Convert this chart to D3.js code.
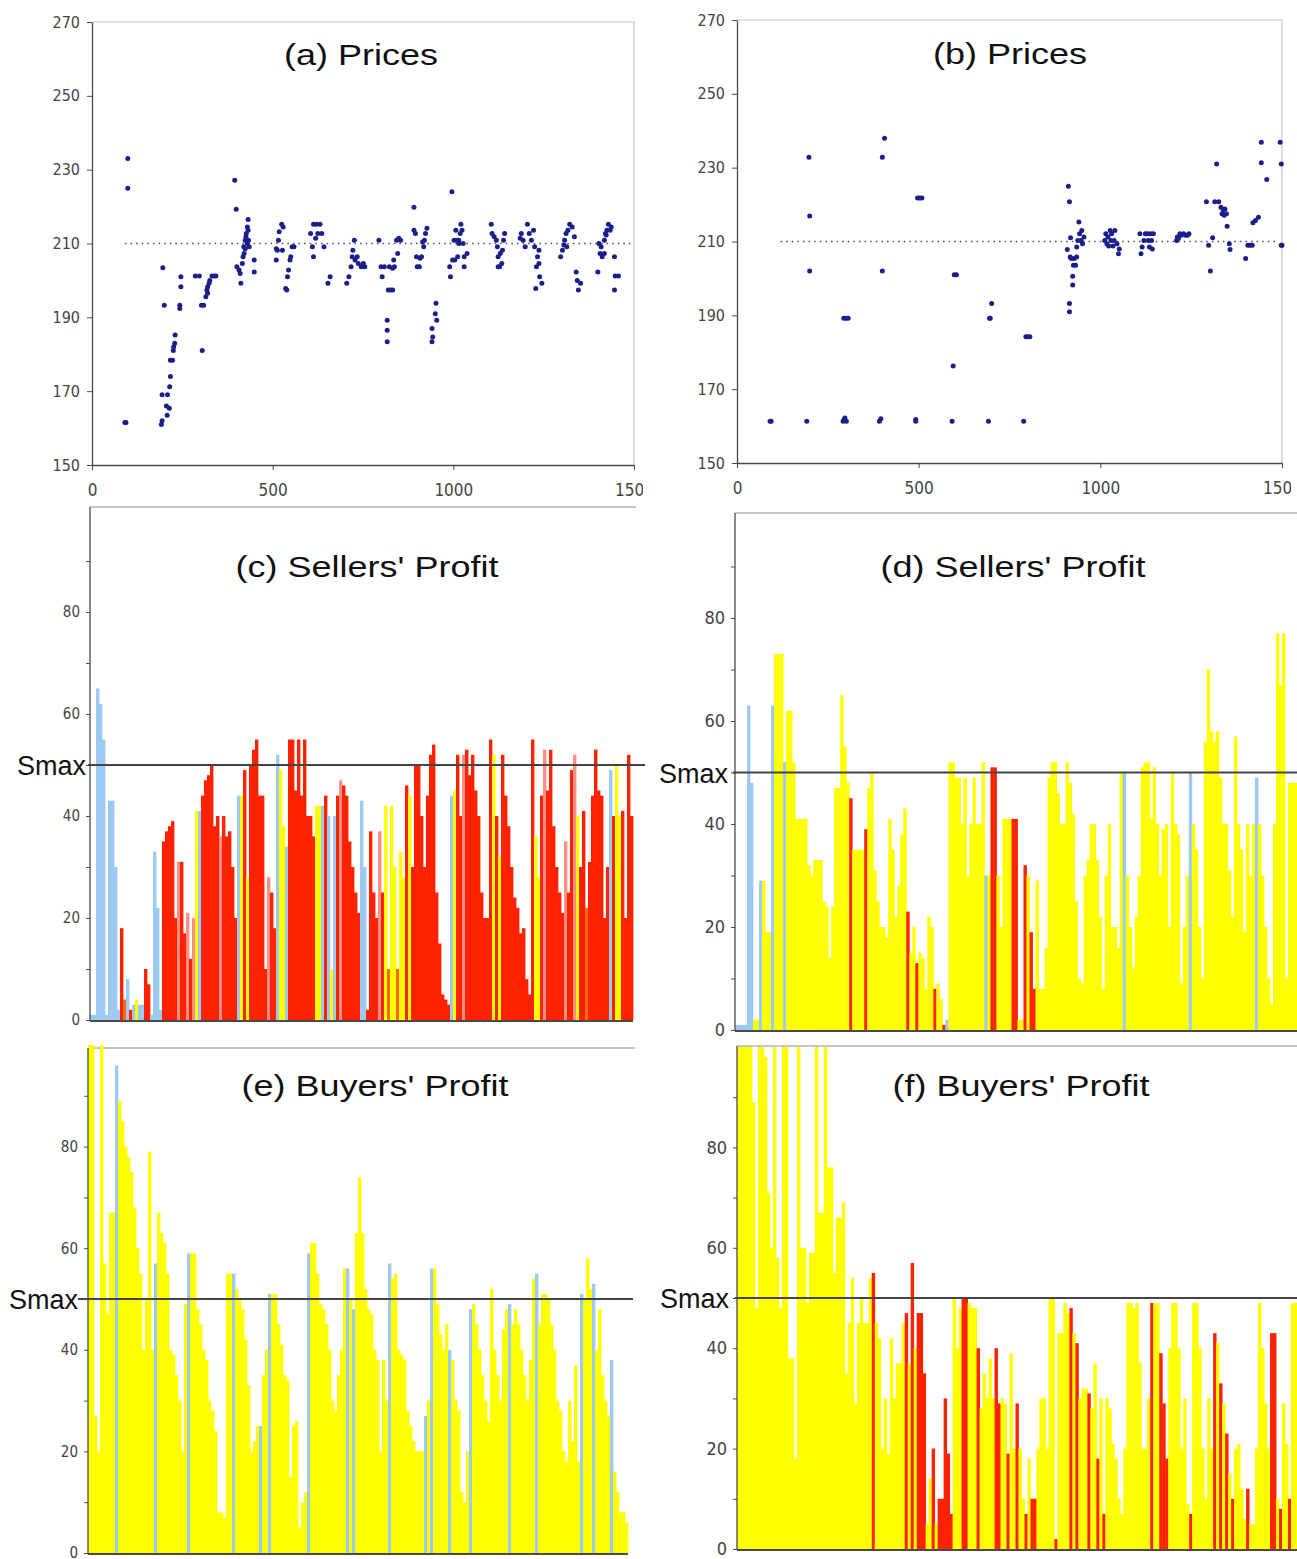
<!DOCTYPE html>
<html>
<head>
<meta charset="utf-8">
<script src="https://cdn.jsdelivr.net/npm/d3@7"></script>
<style>
  body { margin: 0; background: #fff; }
  svg { display: block; }
</style>
</head>
<body>
<svg id="chart" width="1297" height="1559"></svg>
<script>
const colours = {
  b: '#9dcaf3',
  y: '#ffff00',
  r: '#ff2200',
  p: '#ff8f86',
  o: '#ff6a10',
  dot: '#1b1f8a',
  axis: '#4a4a4a',
  frame: '#c6c6c6',
  label: '#444',
  title: '#111',
};
const narrowFont = "'Liberation Sans Narrow', 'DejaVu Sans Condensed', sans-serif";
const titleFont = "'Liberation Sans', Arial, sans-serif";

// ---- data ----
const timeTicks = [0, 500, 1000, 1500];
const priceTicks = [150, 170, 190, 210, 230, 250, 270];
const profitTicks = [0, 10, 20, 30, 40, 50, 60, 70, 80, 90];
const profitLabels = [0, 20, 40, 60, 80];
const EQUILIBRIUM = 210;
const SMAX = 50;

// (a) prices: [time, price]
const pricesA = [
  [91,161.5],[94,161.5],[99,233],[99,225],[192,161],[194,162],[196,203.4],[200,193.3],[194,169],[209,169],
  [206,166],[208,163.5],[214,165.4],[215,171.2],[217,174],[217,178.4],[223,178.4],[226,182],[229,183],[230,185.2],
  [225,181],[246,198.3],[246,201],[243,193.3],[243,192.4],[286,201.2],[297,201.2],[305,181],[303,193.3],[309,193.3],
  [315,195.6],[318,197.4],[320,198.3],[324,199.2],[326,200],[332,201.2],[338,201.2],[343,201.2],[320,196.5],
  [395,227.1],[399,219.3],[401,203.7],[407,202.8],[412,199.2],[410,201.9],[418,206.4],[420,209.1],[424,210.9],[427,212.7],
  [430,214.5],[432,216.5],[416,204.6],[421,207.3],[424,208.6],[430,210],[433,210.9],[435,209.1],[426,211.8],[432,213.6],
  [449,205.5],[449,202.3],
  [510,205.5],[513,208.2],[516,210.9],[518,213.2],[525,215.2],[529,214.5],[527,208.2],[510,208.6],[536,197.8],[539,197.4],
  [541,201],[544,202.8],[548,205.5],[550,206.4],[554,209.1],[559,209.1],
  [605,212.7],[610,209.1],[613,206.4],[613,215.2],[621,215.2],[625,212.7],[631,215.2],[636,212.7],[642,209.1],[619,211.4],
  [653,199.2],[659,201],
  [705,199.2],[711,201],[717,203.7],[720,206.4],[722,208.2],[726,210.9],[728,205.5],[734,206.4],[737,204.6],[745,203.7],
  [751,204.6],[755,203.7],
  [794,210.9],[800,203.7],[803,201],[809,203.7],[817,189.2],[817,186.5],[817,183.4],[820,197.4],[826,197.4],[832,197.4],
  [823,203.7],[832,203.3],[835,205.5],[837,203.7],[843,210.9],[849,211.4],[854,210.9],[846,207.3],
  [891,219.8],[891,213.6],[895,212.7],[898,206.4],[900,203.7],[906,203.7],[912,206.4],[918,209.1],[920,210.9],[923,212.7],
  [927,214.1],[915,210.4],[908,206],
  [941,187],[941,183.4],[943,184.7],[950,191],[952,193.8],[954,189.2],
  [996,224],[990,203.7],[992,201],[998,205.5],[1002,210.9],[1007,213.6],[1010,210.9],[1004,205.5],[1012,206.4],[1015,210.9],
  [1019,212.7],[1021,215.2],[1024,213.6],[1027,210],[1030,206.4],[1030,203.7],[1038,207.3],[1015,210],
  [1105,215.2],[1107,212.7],[1113,211.8],[1119,210.9],[1122,209.1],[1124,206.4],[1128,203.7],[1130,207.3],[1134,204.6],[1136,208.2],
  [1139,210.9],[1142,212.7],[1124,203.7],
  [1185,211.4],[1188,212.7],[1193,210.9],[1199,209.1],[1205,215.2],[1210,212.7],[1216,210.9],[1222,213.6],[1225,209.1],[1228,197.8],
  [1230,203.7],[1233,206.4],[1237,208.2],[1239,201],[1245,199.2],[1237,204.6],
  [1297,206.4],[1302,208.2],[1306,209.6],[1308,210.9],[1312,212.7],[1317,213.6],[1322,215.2],[1329,214.5],[1335,211.8],[1340,202.3],
  [1343,200],[1346,197.4],[1352,199.2],[1314,209.1],
  [1400,202.3],[1403,210],[1406,207.3],[1412,206.4],[1418,210.9],[1421,212.7],[1425,213.6],[1429,215.2],[1434,213.6],[1437,214.5],
  [1409,209.1],[1423,212.3],[1418,207.3],[1446,206.4],[1448,201.2],[1457,201.2],[1446,197.4],
];

// (b) prices: [time, price]
const pricesB = [
  [91,161.3],[94,161.3],[192,161.3],[198,232.8],[200,216.9],[200,202],
  [294,189.2],[300,189.2],[306,189.2],[292,161.3],[295,161.8],[297,162.2],[301,161.3],
  [392,161.3],[396,162],[400,232.8],[406,238],[400,202],
  [492,161.8],[492,161.3],[497,221.8],[503,221.8],[509,221.8],
  [592,161.3],[595,176.3],[598,201],[604,201],
  [692,161.3],[697,189.2],[701,193.2],[695,189.2],
  [789,161.3],[795,184.2],[800,184.2],[806,184.2],
  [909,207.8],[912,225],[915,220.8],[915,191],[915,193.2],[917,205.8],[920,205.4],[918,211],[924,198.2],[924,200.6],
  [926,203.6],[928,205.4],[932,203.6],[935,205.8],[938,210.3],[935,208.5],[941,215.3],[943,212.1],[947,210.3],[949,213],
  [951,209.4],[955,211.2],
  [1012,210.3],[1015,212.1],[1018,209.4],[1021,211.2],[1023,208.8],[1027,213],[1029,210.3],[1031,212.1],[1035,208.8],[1038,210.3],
  [1040,213],[1046,209.4],[1050,206.7],[1052,208],
  [1109,212.1],[1112,206.7],[1115,208.5],[1120,210.3],[1124,212.1],[1130,212.1],[1132,210.3],[1135,208.5],[1138,212.1],[1141,210.3],
  [1143,208],[1146,212.1],
  [1210,210.3],[1212,211.2],[1215,210.8],[1219,212.1],[1223,211.7],[1229,212.1],[1235,211.7],[1240,211.7],[1244,212.1],
  [1292,220.8],[1298,209],[1303,202],[1309,211],[1315,220.8],[1320,231],[1326,220.8],[1332,219.3],[1335,217.5],[1338,218.6],
  [1341,217.1],[1343,218.8],[1347,217.5],[1349,214.1],[1355,209.4],[1357,207.8],
  [1400,205.4],[1406,209],[1412,209],[1418,209],[1420,215.1],[1427,215.7],[1435,216.6],[1443,236.9],[1443,231.3],[1458,226.8],
  [1495,236.9],[1498,231],[1498,209],[1500,209],
];

// (c) sellers' profit per transaction slot; kinds: b blue, y yellow, r red, p light red, o orange
const sellersC = [
  1,1,65,62,55,1,43,43,30,2, 18,4,8,2,3,4,3,3,10,7, 1,33,22,2,35,37,38,39,20,31,
  31,17,21,12,20,41,41,44,47,48, 50,38,40,36,40,36,37,30,20,44, 44,49,28,50,53,55,44,44,10,28,
  25,18,52,49,38,34,55,55,45,55, 44,55,40,40,36,42,42,42,44,40, 10,40,44,47,46,44,35,30,25,21,
  43,30,2,37,25,20,37,25,42,10, 42,30,10,33,28,46,44,30,50,50, 40,30,44,52,54,25,15,5,4,3,
  44,45,52,40,52,53,48,52,45,40, 25,20,20,55,52,40,32,52,44,38, 30,24,22,17,18,8,5,55,36,28,
  44,53,45,53,38,30,25,21,35,25, 49,52,40,30,41,22,31,44,53,45, 44,20,30,49,40,50,40,41,20,52,40,
];
const sellersCKinds = (
  'bbbbbbbbbb' + 'robrbybbrr' + 'bbbbrrrrrp' + 'rrprpybrrr' + 'rrrprrrrrb' + 'yryrrrrrrp' +
  'rrbyybrrrr' + 'rrrrryybrb' + 'ybrprrrrrr' + 'bbrrrrpryo' + 'yyoyyryrrr' + 'rrrrrrrrrr' +
  'byrrprrrrr' + 'rrrryryrrr' + 'rrrrrrrryy' + 'rprrrrrrpr' + 'rpyrrorrrr' + 'rrrbryyrrrr'
).split('');

// (d) sellers' profit
const sellersD = [
  1,1,1,1,63,48,2,2,29,29, 19,19,63,73,73,73,52,62,62,52, 41,41,41,41,32,30,33,33,33,25,
  24,14,24,47,47,65,55,48,45,35, 35,35,35,39,47,50,31,25,20,20, 18,41,35,22,28,38,43,23,15,20,
  13,15,14,8,22,20,8,9,6,1, 2,52,52,49,49,40,49,30,40,49, 40,40,52,30,30,51,51,30,20,41,
  41,41,41,41,2,2,32,30,19,8, 29,8,8,16,49,52,52,46,40,40, 52,48,42,25,10,9,30,33,40,40,
  33,22,8,30,40,20,20,16,50,50, 30,20,12,22,30,51,52,52,41,51, 40,30,39,40,20,50,40,38,9,20,
  30,50,40,35,20,10,56,70,58,56, 58,49,40,40,31,22,57,40,35,19, 40,30,40,49,40,30,20,10,5,40,
  77,67,77,10,48,48,48,
];
const sellersDKinds = (
  'bbbbbbyyby' + 'yybyyybyyy' + 'yyyyyyyyyy' + 'yyyyyyyyry' + 'yyyryyyyyy' + 'yyyyyyyryy' +
  'ryyyyyryyr' + 'byyyyyyyyy' + 'yyybyrryyy' + 'yyrryyryrr' + 'yyyyyyyyyy' + 'yyyyyyyyyy' +
  'yyyyyyyyyb' + 'yyyyyyyyyy' + 'yyyyyyyyyy' + 'ybyyyyyyyy' + 'yyyyyyyyyy' + 'yyybyyyyyy' + 'yyyyyyy'
).split('');

// (e) buyers' profit
const buyersE = [
  100,100,27,20,100,57,47,67,67,96, 89,85,80,78,75,68,60,55,40,50, 79,40,57,67,63,61,55,40,39,35,
  30,20,49,59,59,59,48,45,40,38, 30,28,24,8,8,7,55,55,55,52, 50,48,42,33,20,22,25,25,35,40,
  51,51,51,45,41,35,34,15,25,26, 5,10,12,59,61,61,55,49,48,45, 40,30,28,35,40,56,56,50,48,63,
  74,63,52,48,47,40,38,20,38,30, 57,54,55,40,39,38,28,25,22,20, 20,20,27,30,56,56,49,43,40,45,
  40,38,30,28,12,10,20,48,49,45, 40,35,30,26,52,40,35,30,44,48, 49,45,48,45,40,35,30,38,54,55,
  45,51,51,50,45,40,30,28,20,18, 30,22,37,18,51,50,58,52,53,40, 48,35,30,27,38,16,12,8,8,6,
];
const buyersEKinds = (
  'yyyyyyyyyb' + 'yyyyyyyyyy' + 'yybyyyyyyy' + 'yyybyyyyyy' + 'yyyyyyyyby' + 'yyyyyyybyy' +
  'byyyyyyyyy' + 'yyybyyyyyy' + 'yyyyyybyby' + 'yyyyyyyyyy' + 'byyyyyyyyy' + 'yybybyyyyy' +
  'byyyyyybyy' + 'yyyyyyyyyy' + 'byyyyyyyyb' + 'yyyyyyyyyy' + 'yyyybyyyby' + 'yyyybyyyyy'
).split('');

// (f) buyers' profit
const buyersF = [
  100,100,100,100,100,89,48,100,100,98, 71,60,100,58,48,100,100,38,38,18, 100,60,60,49,59,59,100,67,67,100,
  76,76,55,66,66,69,35,45,54,29, 45,50,45,45,54,55,45,42,20,30, 19,42,30,37,37,45,47,37,57,40,
  47,47,35,5,14,20,5,10,10,30, 19,7,50,40,48,50,50,49,48,48, 40,28,35,30,38,30,40,29,30,29,
  19,39,20,29,20,10,7,18,10,10, 20,30,30,20,50,50,2,43,43,49, 47,48,43,41,30,32,32,31,28,37,
  18,30,7,30,28,21,18,10,7,20, 49,49,48,49,37,20,20,30,49,49, 49,39,29,18,40,49,49,40,20,30,
  9,7,49,49,40,20,10,30,20,43, 41,33,29,23,15,10,20,21,12,6, 12,5,5,20,49,40,29,20,43,43,
  10,8,29,21,10,49,49,
];
const buyersFKinds = (
  'yyyyyyyyyy' + 'yyyyyyyyyy' + 'yyyyyyyyyy' + 'yyyyyyyyyy' + 'yyyyyryyyy' + 'yyyyyyryry' +
  'rrryyryrrr' + 'rryyyrryyy' + 'ryyyyyrryy' + 'ryyryyryrr' + 'yyyyyyryyy' + 'yryryyyryy' +
  'ryryyyyyyy' + 'yyyyyyyyry' + 'yrrryyyyyy' + 'yryyyyyyyr' + 'yryryryyyy' + 'ryyyyyyyrr' + 'yryyryy'
).split('');

const svg = d3.select('#chart');
const defs = svg.append('defs');

function styleAxis(g, size) {
  g.attr('font-family', narrowFont).attr('font-size', size);
  g.select('.domain').attr('stroke', colours.axis).attr('stroke-width', 1.3);
  g.selectAll('.tick line').attr('stroke', colours.axis);
  g.selectAll('.tick text').attr('fill', colours.label);
}

function drawTitle(text, cx, baseline) {
  svg.append('g')
    .attr('transform', `translate(${cx},${baseline}) scale(1.2,1)`)
    .append('text')
    .attr('text-anchor', 'middle')
    .attr('font-family', titleFont)
    .attr('font-size', 30)
    .attr('fill', colours.title)
    .text(text);
}

function drawPrices(cfg, points) {
  const x = d3.scaleLinear().domain([0, 1500]).range([cfg.left, cfg.right]);
  const y = d3.scaleLinear().domain([150, 270]).range([cfg.bottom, cfg.top]);
  const g = svg.append('g');

  // light frame on top and right
  g.append('path')
    .attr('d', `M${cfg.left},${cfg.top}H${cfg.right}V${cfg.bottom}`)
    .attr('fill', 'none')
    .attr('stroke', colours.frame)
    .attr('stroke-width', 1.2);

  const yAxis = g.append('g')
    .attr('transform', `translate(${cfg.left},0)`)
    .call(d3.axisLeft(y).tickValues(priceTicks).tickSize(5).tickSizeOuter(0).tickPadding(7));
  styleAxis(yAxis, 16);

  // x axis; the last label is cut at the picture edge
  // (clip rect lives in the axis group's own, translated, coordinates)
  const clipId = `clip-${cfg.id}`;
  defs.append('clipPath').attr('id', clipId)
    .append('rect').attr('x', cfg.left - 40).attr('y', -5)
    .attr('width', cfg.clipRight - cfg.left + 40).attr('height', 60);
  const xAxis = g.append('g')
    .attr('transform', `translate(0,${cfg.bottom})`)
    .attr('clip-path', `url(#${clipId})`)
    .call(d3.axisBottom(x).tickValues(timeTicks).tickFormat(d3.format('d')).tickSize(5).tickSizeOuter(0).tickPadding(14));
  styleAxis(xAxis, 17);

  // equilibrium price
  g.append('line')
    .attr('x1', x(cfg.lineFrom)).attr('x2', x(1490))
    .attr('y1', y(EQUILIBRIUM)).attr('y2', y(EQUILIBRIUM))
    .attr('stroke', '#555')
    .attr('stroke-width', 1.3)
    .attr('stroke-dasharray', '1.6,4');

  g.selectAll('circle')
    .data(points)
    .join('circle')
    .attr('cx', d => x(d[0]))
    .attr('cy', d => y(d[1]))
    .attr('r', 2.5)
    .attr('fill', colours.dot);

  drawTitle(cfg.title, cfg.titleX, cfg.titleY);
}

function drawProfit(cfg, values, kinds) {
  const x = d3.scaleBand().domain(d3.range(values.length)).range([cfg.left, cfg.right]).padding(0);
  const y = d3.scaleLinear().domain([0, 100]).range([cfg.bottom, cfg.top]);
  const g = svg.append('g');

  // top frame line
  g.append('line')
    .attr('x1', cfg.left).attr('x2', cfg.frameRight)
    .attr('y1', cfg.frameTop).attr('y2', cfg.frameTop)
    .attr('stroke', colours.frame)
    .attr('stroke-width', 2);

  g.append('g')
    .selectAll('rect')
    .data(values)
    .join('rect')
    .attr('x', (d, i) => x(i))
    .attr('width', x.bandwidth() + 0.4)
    .attr('y', d => y(d))
    .attr('height', d => y(0) - y(d))
    .attr('fill', (d, i) => colours[kinds[i]] || colours.y);

  const yAxis = g.append('g')
    .attr('transform', `translate(${cfg.left},0)`)
    .call(
      d3.axisLeft(y)
        .tickValues(profitTicks)
        .tickFormat(d => (profitLabels.includes(d) ? d : ''))
        .tickSize(4)
        .tickSizeOuter(0)
        .tickPadding(6),
    );
  styleAxis(yAxis, cfg.labelSize);
  yAxis.select('.domain').attr('d', `M0,${cfg.bottom}V${cfg.frameTop}`);

  // baseline
  g.append('line')
    .attr('x1', cfg.left).attr('x2', cfg.right)
    .attr('y1', y(0) + 1).attr('y2', y(0) + 1)
    .attr('stroke', colours.axis)
    .attr('stroke-width', 1.8);

  // Smax reference
  g.append('line')
    .attr('x1', cfg.smaxFrom).attr('x2', cfg.smaxTo)
    .attr('y1', y(SMAX)).attr('y2', y(SMAX))
    .attr('stroke', '#444')
    .attr('stroke-width', 1.8);
  g.append('text')
    .attr('x', cfg.smaxLabelEnd)
    .attr('y', y(SMAX) + 10)
    .attr('text-anchor', 'end')
    .attr('font-family', titleFont)
    .attr('font-size', 27)
    .attr('fill', colours.title)
    .text('Smax');

  drawTitle(cfg.title, cfg.titleX, cfg.titleY);
}

drawPrices({ id: 'a', left: 92, right: 634, top: 22, bottom: 465, clipRight: 643, lineFrom: 91,
  title: '(a) Prices', titleX: 361, titleY: 65 }, pricesA);
drawPrices({ id: 'b', left: 737, right: 1282, top: 20, bottom: 463, clipRight: 1291, lineFrom: 120,
  title: '(b) Prices', titleX: 1010, titleY: 64 }, pricesB);

drawProfit({ left: 90, right: 633, top: 510, bottom: 1020, frameTop: 507, frameRight: 636,
  smaxFrom: 88, smaxTo: 645, smaxLabelEnd: 86, labelSize: 15,
  title: "(c) Sellers' Profit", titleX: 367, titleY: 577 }, sellersC, sellersCKinds);
drawProfit({ left: 735, right: 1297, top: 515, bottom: 1030, frameTop: 513, frameRight: 1297,
  smaxFrom: 733, smaxTo: 1297, smaxLabelEnd: 728, labelSize: 18,
  title: "(d) Sellers' Profit", titleX: 1013, titleY: 577 }, sellersD, sellersDKinds);
drawProfit({ left: 88, right: 628, top: 1045, bottom: 1553, frameTop: 1048, frameRight: 635,
  smaxFrom: 78, smaxTo: 633, smaxLabelEnd: 78, labelSize: 15,
  title: "(e) Buyers' Profit", titleX: 375, titleY: 1096 }, buyersE, buyersEKinds);
drawProfit({ left: 737, right: 1297, top: 1047, bottom: 1549, frameTop: 1046, frameRight: 1297,
  smaxFrom: 735, smaxTo: 1297, smaxLabelEnd: 729, labelSize: 18,
  title: "(f) Buyers' Profit", titleX: 1021, titleY: 1096 }, buyersF, buyersFKinds);
</script>
</body>
</html>
